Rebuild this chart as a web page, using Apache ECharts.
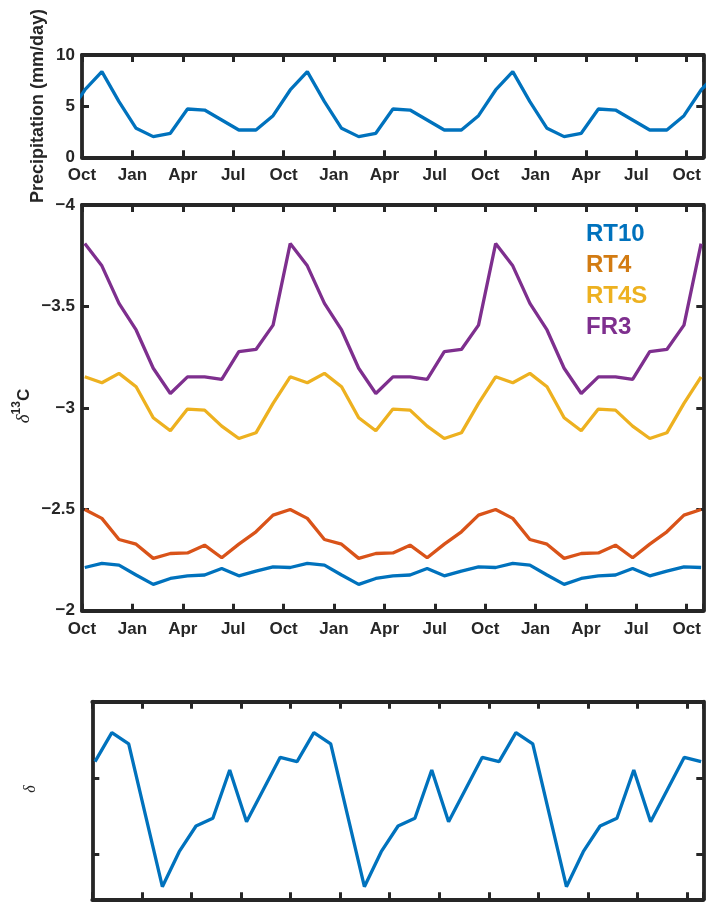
<!DOCTYPE html>
<html>
<head>
<meta charset="utf-8">
<script src="https://cdn.jsdelivr.net/npm/echarts@6/dist/echarts.min.js"></script>
<style>
html, body { margin: 0; padding: 0; background: #fff; }
#chart { width: 715px; height: 922px; }
</style>
</head>
<body>
<div id="chart"></div>
<script>
// time axis is in days since 1 Oct of the first year; one point every 31 days
var monthLabels = ['Oct', 'Jan', 'Apr', 'Jul'];
var quarter = 91.25;
var xMax = 1125;

var days = [5, 36, 67, 98, 129, 160, 191, 222, 253, 284, 315, 346,
            377, 408, 439, 470, 501, 532, 563, 594, 625, 656, 687, 718,
            749, 780, 811, 842, 873, 904, 935, 966, 997, 1028, 1059, 1090, 1121];

// precipitation runs a point past each end of the axis (clipped)
var precipDays = [-26, 5, 36, 67, 98, 129, 160, 191, 222, 253, 284, 315, 346,
            377, 408, 439, 470, 501, 532, 563, 594, 625, 656, 687, 718,
            749, 780, 811, 842, 873, 904, 935, 966, 997, 1028, 1059, 1090, 1121, 1152];
var precip = [4.07,
  6.58, 8.37, 5.44, 2.83, 2.02, 2.35, 4.72, 4.62, 3.65, 2.67, 2.67, 4.07,
  6.58, 8.37, 5.44, 2.83, 2.02, 2.35, 4.72, 4.62, 3.65, 2.67, 2.67, 4.07,
  6.58, 8.37, 5.44, 2.83, 2.02, 2.35, 4.72, 4.62, 3.65, 2.67, 2.67, 4.07,
  6.58, 8.37];

var rt10 = [
  -2.213, -2.233, -2.225, -2.176, -2.130, -2.159, -2.172, -2.176, -2.208, -2.172, -2.195, -2.216,
  -2.213, -2.233, -2.225, -2.176, -2.130, -2.159, -2.172, -2.176, -2.208, -2.172, -2.195, -2.216,
  -2.213, -2.233, -2.225, -2.176, -2.130, -2.159, -2.172, -2.176, -2.208, -2.172, -2.195, -2.216,
  -2.213];
var rt4 = [
  -2.499, -2.455, -2.351, -2.328, -2.258, -2.282, -2.285, -2.323, -2.261, -2.328, -2.389, -2.471,
  -2.499, -2.455, -2.351, -2.328, -2.258, -2.282, -2.285, -2.323, -2.261, -2.328, -2.389, -2.471,
  -2.499, -2.455, -2.351, -2.328, -2.258, -2.282, -2.285, -2.323, -2.261, -2.328, -2.389, -2.471,
  -2.499];
var rt4s = [
  -3.153, -3.124, -3.170, -3.104, -2.951, -2.887, -2.994, -2.989, -2.910, -2.849, -2.877, -3.022,
  -3.153, -3.124, -3.170, -3.104, -2.951, -2.887, -2.994, -2.989, -2.910, -2.849, -2.877, -3.022,
  -3.153, -3.124, -3.170, -3.104, -2.951, -2.887, -2.994, -2.989, -2.910, -2.849, -2.877, -3.022,
  -3.153];
var fr3 = [
  -3.810, -3.700, -3.515, -3.384, -3.195, -3.071, -3.153, -3.153, -3.140, -3.277, -3.288, -3.408,
  -3.810, -3.700, -3.515, -3.384, -3.195, -3.071, -3.153, -3.153, -3.140, -3.277, -3.288, -3.408,
  -3.810, -3.700, -3.515, -3.384, -3.195, -3.071, -3.153, -3.153, -3.140, -3.277, -3.288, -3.408,
  -3.810];

// lower panel has no tick labels; values in tick units counted down from the top
var lower = [
  0.786, 0.406, 0.554, 1.490, 2.425, 1.966, 1.629, 1.528, 0.895, 1.573, 1.151, 0.729,
  0.786, 0.406, 0.554, 1.490, 2.425, 1.966, 1.629, 1.528, 0.895, 1.573, 1.151, 0.729,
  0.786, 0.406, 0.554, 1.490, 2.425, 1.966, 1.629, 1.528, 0.895, 1.573, 1.151, 0.729,
  0.786];

var seriesNames = ['RT10', 'RT4', 'RT4S', 'FR3'];
var lineColors = ['#0072BD', '#D95319', '#EDB120', '#7E2F8E'];
var legendColors = ['#0072BD', '#D27B12', '#EDB120', '#7E2F8E'];

var axisColor = '#262626';
var frameWidth = 3.8;
var lineWidth = 3.3;

function pairs(xs, ys) {
  return xs.map(function (x, i) { return [x, ys[i]]; });
}

function monthLabel(v) {
  var q = v / quarter;
  var r = Math.round(q);
  if (Math.abs(q - r) > 1e-6) return '';
  return monthLabels[r % 4];
}

function minusLabel(v) {
  return String(v).replace('-', '\u2212');
}

var tickFont = {
  fontFamily: 'Liberation Sans', fontWeight: 'bold', fontSize: 17, color: axisColor
};

function frameAxis(extra) {
  var a = {
    type: 'value',
    splitLine: { show: false },
    axisLine: { show: true, onZero: false, lineStyle: { color: axisColor, width: frameWidth } },
    axisTick: { show: true, inside: true, length: 7, lineStyle: { color: axisColor, width: 3 } },
    axisLabel: { show: false }
  };
  return Object.assign(a, extra);
}

var xAxes = [];
var yAxes = [];
function addPanel(g, ymin, ymax, yint, inverse, labels) {
  xAxes.push(frameAxis({
    gridIndex: g, position: 'bottom', min: 0, max: xMax, interval: quarter,
    axisLabel: labels ? Object.assign({ show: true, margin: 10, formatter: monthLabel }, tickFont) : { show: false }
  }));
  xAxes.push(frameAxis({ gridIndex: g, position: 'top', min: 0, max: xMax, interval: quarter }));
  yAxes.push(frameAxis({
    gridIndex: g, position: 'left', min: ymin, max: ymax, interval: yint, inverse: inverse,
    axisLabel: labels ? Object.assign({ show: true, margin: 7, formatter: minusLabel }, tickFont) : { show: false }
  }));
  yAxes.push(frameAxis({ gridIndex: g, position: 'right', min: ymin, max: ymax, interval: yint, inverse: inverse }));
}
addPanel(0, 0, 10, 5, false, true);
addPanel(1, -4, -2, 0.5, true, true);
addPanel(2, 0, 2.59, 1, true, false);

function lineSeries(name, data, color, g) {
  return {
    name: name, type: 'line', data: data,
    xAxisIndex: g * 2, yAxisIndex: g * 2,
    symbol: 'none', clip: true,
    lineStyle: { color: color, width: lineWidth },
    itemStyle: { color: color },
    z: 3
  };
}

var series = [lineSeries('Precipitation', pairs(precipDays, precip), lineColors[0], 0)];
[rt10, rt4, rt4s, fr3].forEach(function (vals, i) {
  series.push(lineSeries(seriesNames[i], pairs(days, vals), lineColors[i], 1));
});
series.push(lineSeries('lower', pairs(days, lower), lineColors[0], 2));

var chart = echarts.init(document.getElementById('chart'), null, { renderer: 'canvas' });
chart.setOption({
  animation: false,
  backgroundColor: '#ffffff',
  grid: [
    { left: 82, top: 55, width: 621.3, height: 102.3 },
    { left: 82, top: 205, width: 621.3, height: 405.7 },
    { left: 92.3, top: 701.7, width: 611, height: 197.6 }
  ],
  xAxis: xAxes,
  yAxis: yAxes,
  legend: {
    orient: 'vertical', left: 581, top: 222, padding: 0,
    icon: 'none', itemWidth: 0, itemHeight: 20, itemGap: 7,
    selectedMode: false,
    textStyle: { fontFamily: 'Liberation Sans', fontWeight: 'bold', fontSize: 24 },
    data: seriesNames.map(function (n, i) {
      return { name: n, textStyle: { color: legendColors[i] } };
    })
  },
  graphic: [
    {
      type: 'text', x: 38, y: 106, rotation: Math.PI / 2,
      style: {
        text: 'Precipitation (mm/day)', fill: axisColor,
        font: 'bold 18px "Liberation Sans"',
        textAlign: 'center', textVerticalAlign: 'middle', align: 'center', verticalAlign: 'middle'
      }
    },
    {
      type: 'text', x: 22, y: 406, rotation: Math.PI / 2,
      style: {
        text: '{d|\u03b4}{s|13}{c|C}', fill: axisColor,
        textAlign: 'center', textVerticalAlign: 'middle', align: 'center', verticalAlign: 'middle',
        rich: {
          d: { fontFamily: 'Liberation Serif', fontStyle: 'italic', fontSize: 19, lineHeight: 22, verticalAlign: 'bottom' },
          s: { fontFamily: 'Liberation Sans', fontWeight: 'bold', fontSize: 12, lineHeight: 22, verticalAlign: 'top' },
          c: { fontFamily: 'Liberation Sans', fontWeight: 'bold', fontSize: 17, lineHeight: 22, verticalAlign: 'bottom' }
        }
      }
    },
    {
      type: 'text', x: 31, y: 789, rotation: Math.PI / 2,
      style: {
        text: '\u03b4', fill: axisColor,
        font: 'italic 16px "Liberation Serif"',
        textAlign: 'center', textVerticalAlign: 'middle', align: 'center', verticalAlign: 'middle'
      }
    }
  ],
  series: series
});
</script>
</body>
</html>
